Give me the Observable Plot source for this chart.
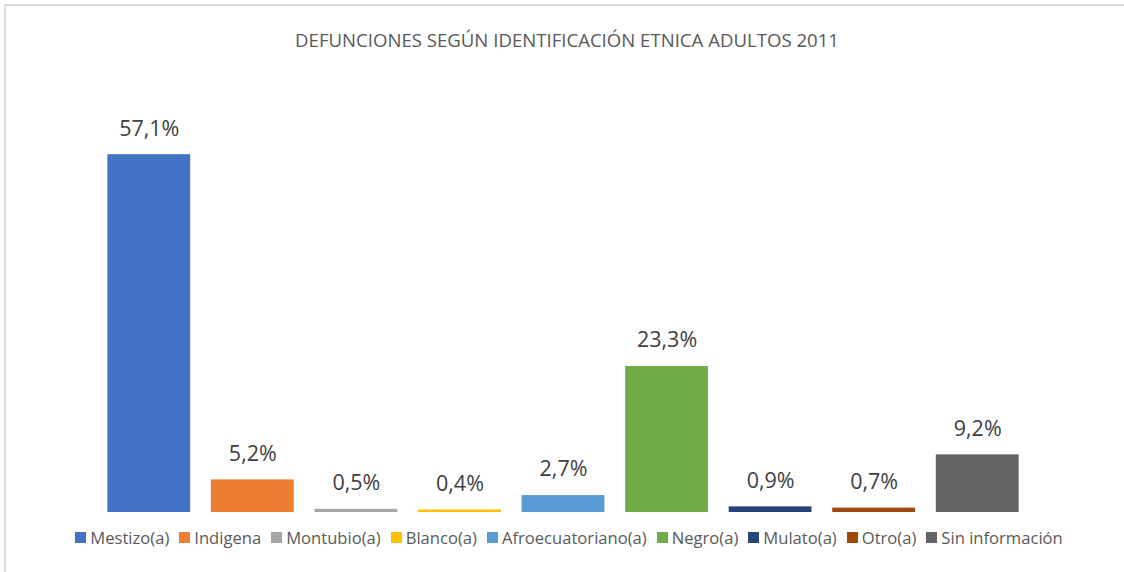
<!DOCTYPE html>
<html>
<head>
<meta charset="utf-8">
<script src="https://cdn.jsdelivr.net/npm/d3@7"></script>
<script src="https://cdn.jsdelivr.net/npm/@observablehq/plot@0.6"></script>
<style>
  html, body { margin: 0; padding: 0; background: #fff; }
  #wrap { position: relative; width: 1124px; height: 572px; overflow: hidden; font-family: "Open Sans", sans-serif; }
  #frame { position: absolute; left: 4px; top: 4px; width: 1200px; height: 700px; border-left: 2px solid #d9d9d9; border-top: 2px solid #d9d9d9; }
  #title { position: absolute; left: 0; width: 1134px; top: 27px; text-align: center; font-size: 18.6px; color: #595959; }
  #chart { position: absolute; left: 0; top: 0; }
  #legend { position: absolute; left: 0; width: 1138px; top: 526px; display: flex; justify-content: center; font-size: 16.6px; color: #595959; }
  .item { display: flex; align-items: center; margin: 0 5px; }
  .sw { width: 11px; height: 11px; margin-right: 4px; }
</style>
</head>
<body>
<div id="wrap">
  <div id="frame"></div>
  <div id="chart"></div>
  <div id="title"></div>
  <div id="legend"></div>
</div>
<script>
const titleText = "DEFUNCIONES SEGÚN IDENTIFICACIÓN ETNICA ADULTOS 2011";
const categories = ["Mestizo(a)", "Indigena", "Montubio(a)", "Blanco(a)", "Afroecuatoriano(a)", "Negro(a)", "Mulato(a)", "Otro(a)", "Sin información"];
const values = [57.1, 5.2, 0.5, 0.4, 2.7, 23.3, 0.9, 0.7, 9.2];
const colors = ["#4472C4", "#ED7D31", "#A5A5A5", "#FFC000", "#5B9BD5", "#70AD47", "#264478", "#9E480E", "#636363"];

const data = categories.map((c, i) => ({category: c, value: values[i]}));
const fmt = v => v.toFixed(1).replace(".", ",") + "%";

document.getElementById("title").textContent = titleText;

const plot = Plot.plot({
  width: 1124,
  height: 520,
  marginTop: 136,
  marginBottom: 8,
  marginLeft: 97,
  marginRight: 95,
  x: {domain: categories, paddingInner: 0.2, paddingOuter: 0.1, round: false, axis: null},
  y: {domain: [0, 60], axis: null},
  color: {domain: categories, range: colors},
  style: {fontFamily: "Open Sans, sans-serif", background: "transparent"},
  marks: [
    Plot.barY(data, {x: "category", y: "value", fill: "category"}),
    Plot.text(data, {x: "category", y: "value", text: d => fmt(d.value), dy: -26, fontSize: 21.5, fill: "#404040"})
  ]
});
document.getElementById("chart").appendChild(plot);

const legend = document.getElementById("legend");
categories.forEach((c, i) => {
  const it = document.createElement("div");
  it.className = "item";
  const sw = document.createElement("div");
  sw.className = "sw";
  sw.style.background = colors[i];
  const t = document.createElement("span");
  t.textContent = c;
  it.appendChild(sw);
  it.appendChild(t);
  legend.appendChild(it);
});
</script>
</body>
</html>
